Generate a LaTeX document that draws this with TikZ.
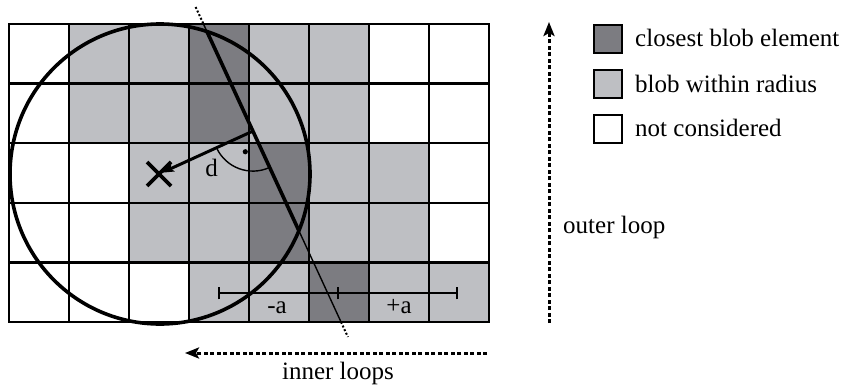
\documentclass[tikz,border=0pt]{standalone}
\usepackage{fontspec}
\setmainfont{Liberation Serif}
\usetikzlibrary{arrows.meta,calc}
\definecolor{cdark}{RGB}{124,124,129}
\definecolor{clight}{RGB}{190,191,195}
\begin{document}
\begin{tikzpicture}[x=1pt,y=1pt,font=\fontsize{25}{30}\selectfont,
  gridline/.style={line width=2.2pt,black},
  boldline/.style={line width=3.6pt,black},
  thinline/.style={line width=1.4pt,black},
  dotline/.style={line width=2pt,black,dash pattern=on 2pt off 2pt},
  looparrow/.style={line width=3pt,dash pattern=on 4pt off 2.5pt,-{Stealth[length=14pt,width=11pt,inset=3pt]}},
  legbox/.style={draw,line width=2.2pt,minimum size=28pt,inner sep=0pt},
  txt/.style={inner sep=0pt}]
\useasboundingbox (0,0) rectangle (843,389);
% cells
\foreach \c/\r in {1/0,2/0,4/0,5/0,1/1,2/1,4/1,5/1,2/2,3/2,5/2,6/2,2/3,3/3,5/3,6/3,3/4,4/4,6/4,7/4}
  \fill[clight] ({9+60*\c},{365-59.6*\r}) rectangle ++(60,-59.6);
\foreach \c/\r in {3/0,3/1,4/2,4/3,5/4}
  \fill[cdark] ({9+60*\c},{365-59.6*\r}) rectangle ++(60,-59.6);
% grid
\foreach \i in {0,...,8}
  \draw[gridline] ({9+60*\i},67) -- ({9+60*\i},365);
\foreach \j in {0,...,5}
  \draw[gridline] (8,{365-59.6*\j}) -- (490,{365-59.6*\j});
% circle
\coordinate (C) at (160,215);
\draw[boldline] (C) circle[radius=150];
% the separating line
\coordinate (F) at (252.9,257.9);
\coordinate (Ltop) at ($(F)+(114.78:136.7)$);
\coordinate (Lgt) at ($(F)+(114.78:117.9)$);
\coordinate (Lct) at ($(F)+(114.78:109.7)$);
\coordinate (Lcb) at ($(F)+(-65.22:109.7)$);
\coordinate (Lgb) at ($(F)+(-65.22:210.2)$);
\coordinate (Lbot) at ($(F)+(-65.22:226.7)$);
\draw[dotline] (Ltop) -- (Lgt);
\draw[dotline] (Lgb) -- (Lbot);
\draw[thinline] (Lgt) -- (Lct);
\draw[thinline] (Lcb) -- (Lgb);
\draw[boldline] (Lct) -- (Lcb);
% distance d
\coordinate (Xc) at (159,215);
\draw[line width=3pt,-{Stealth[length=12pt,width=8pt,inset=2pt]},shorten >=3pt] (F) -- (Xc);
\draw[thinline] ($(F)+(204.78:40)$) arc[start angle=204.78,end angle=294.78,radius=40];
\fill ($(F)+(249.78:22)$) circle[radius=2.6];
\node[txt] (dlab) at (211.7,221) {d};
% X marker
\draw[boldline] ($(Xc)+(-12,-12)$) -- ($(Xc)+(12,12)$);
\draw[boldline] ($(Xc)+(-12,12)$) -- ($(Xc)+(12,-12)$);
% range bar
\coordinate (BL) at (219,95.7);
\coordinate (BM) at (338.3,95.7);
\coordinate (BR) at (457.3,95.7);
\draw[line width=1.8pt] (BL) -- (BR);
\foreach \p in {BL,BM,BR}
  \draw[line width=1.8pt] ($(\p)+(0,-6)$) -- ($(\p)+(0,6)$);
\node[txt,anchor=base] (ma) at (277,76) {-a};
\node[txt,anchor=base] (pa) at (399,76) {+a};
% legend
\node[legbox,fill=cdark] (k1) at (608,350.3) {};
\node[legbox,fill=clight] (k2) at (608,304.8) {};
\node[legbox,fill=white] (k3) at (608,260.3) {};
\node[txt,anchor=base west] (t1) at (635,342.3) {closest blob element};
\node[txt,anchor=base west] (t2) at (635,296.3) {blob within radius};
\node[txt,anchor=base west] (t3) at (635,252.3) {not considered};
% loops
\coordinate (ob) at (549,66);
\coordinate (ot) at (549,367);
\draw[looparrow] (ob) -- (ot);
\node[txt,anchor=base west] (ol) at (563,155.7) {outer loop};
\coordinate (ir) at (487,36);
\coordinate (il) at (185,36);
\draw[looparrow] (ir) -- (il);
\node[txt,anchor=base] (il2) at (338,10) {inner loops};
\end{tikzpicture}
\end{document}
